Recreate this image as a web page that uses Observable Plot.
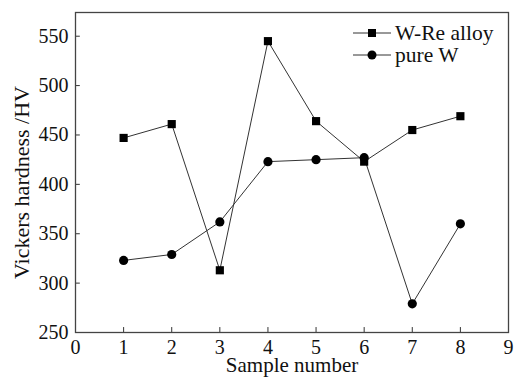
<!DOCTYPE html>
<html><head><meta charset="utf-8">
<script src="https://cdn.jsdelivr.net/npm/d3@7"></script>
<script src="https://cdn.jsdelivr.net/npm/@observablehq/plot@0.6"></script>
<style>
body{margin:0;background:#fff}
#wrap{position:relative;width:514px;height:377px;overflow:hidden}
#legend{position:absolute;left:353px;top:22px;font-family:"Liberation Serif",serif;font-size:21.5px;color:#111}
#legend .row{display:flex;align-items:center;height:22px}
#legend svg{margin-right:4px}
</style>
</head><body>
<div id="wrap"><div id="legend"></div></div>
<script>
const samples = [1, 2, 3, 4, 5, 6, 7, 8];
const wreAlloy = [447, 461, 313, 545, 464, 423, 455, 469];
const pureW = [323, 329, 362, 423, 425, 427, 279, 360];
const xTicks = [0, 1, 2, 3, 4, 5, 6, 7, 8, 9];
const yTicks = [250, 300, 350, 400, 450, 500, 550];
const seriesNames = ["W-Re alloy", "pure W"];
const seriesSymbols = ["square", "circle"];

const data = [
  ...samples.map((s, i) => ({x: s, y: wreAlloy[i], series: seriesNames[0]})),
  ...samples.map((s, i) => ({x: s, y: pureW[i], series: seriesNames[1]}))
];

const chart = Plot.plot({
  width: 514,
  height: 377,
  marginLeft: 75,
  marginRight: 6,
  marginTop: 12,
  marginBottom: 45,
  style: {fontFamily: "'Liberation Serif', serif", fontSize: "20px", color: "#111", background: "#fff"},
  x: {domain: [0, 9], ticks: xTicks, label: null},
  y: {domain: [250, 574], ticks: yTicks, label: null},
  symbol: {domain: seriesNames, range: seriesSymbols},
  marks: [
    Plot.axisX(xTicks, {tickSize: 0, tickPadding: 7, label: null, fontSize: 20}),
    Plot.axisY(yTicks, {tickSize: 0, tickPadding: 7, label: null, fontSize: 20}),
    Plot.ruleX(xTicks.slice(1, -1), {y1: 250, y2: 255, stroke: "#333", strokeWidth: 1}),
    Plot.ruleY(yTicks.slice(1), {x1: 0, x2: 0.1, stroke: "#333", strokeWidth: 1}),
    Plot.line(data, {x: "x", y: "y", z: "series", stroke: "#333", strokeWidth: 1}),
    Plot.dot(data, {x: "x", y: "y", symbol: "series", fill: "#000", r: 4.6}),
    Plot.frame({stroke: "#444", strokeWidth: 1.3}),
    Plot.text(["Vickers hardness /HV"], {frameAnchor: "left", textAnchor: "middle", rotate: -90, dx: -54, dy: 10, fontSize: 22}),
    Plot.text(["Sample number"], {frameAnchor: "bottom", textAnchor: "middle", lineAnchor: "top", dy: 25, fontSize: 21})
  ]
});
document.getElementById("wrap").prepend(chart);

const legend = document.getElementById("legend");
seriesNames.forEach((name, i) => {
  const row = document.createElement("div");
  row.className = "row";
  const shape = seriesSymbols[i] === "square"
    ? '<rect x="15" y="5" width="8" height="8" fill="#000"/>'
    : '<circle cx="19" cy="9" r="4.5" fill="#000"/>';
  row.innerHTML = '<svg width="38" height="18"><line x1="0" x2="38" y1="9" y2="9" stroke="#333" stroke-width="1"/>' + shape + '</svg><span>' + name + '</span>';
  legend.appendChild(row);
});
</script>
</body></html>
